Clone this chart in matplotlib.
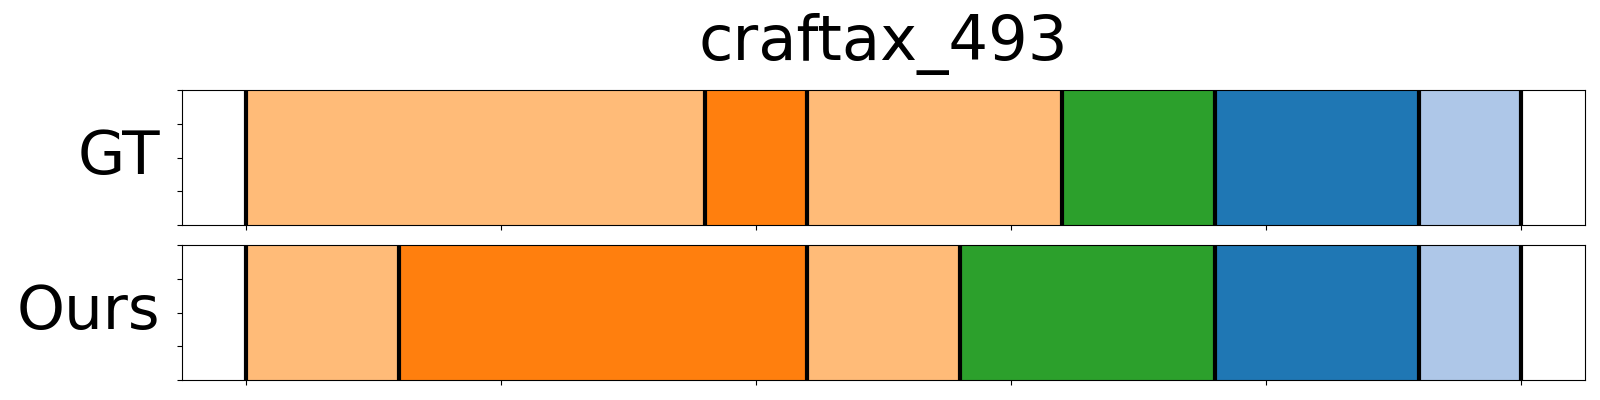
import matplotlib
matplotlib.use('Agg')
import matplotlib.pyplot as plt

# 分段结果 (帧边界 + 类别编号, tab20 色表)
title = 'craftax_493'
row_names = ['GT', 'Ours']
gt_bounds = [0, 180, 220, 320, 380, 460, 500]
gt_labels = [3, 2, 3, 4, 0, 1]
ours_bounds = [0, 60, 220, 280, 380, 460, 500]
ours_labels = [3, 2, 3, 4, 0, 1]
x_ticks = [0, 100, 200, 300, 400, 500]

cmap = plt.get_cmap('tab20')


def draw_segments(ax, bounds, labels):
    for i, lab in enumerate(labels):
        ax.axvspan(bounds[i], bounds[i + 1], color=cmap(lab), lw=0)
    for b in bounds:
        ax.axvline(b, color='black', lw=3)


fig, axes = plt.subplots(2, 1, figsize=(16, 4), dpi=100)
fig.subplots_adjust(left=0.1136, right=0.9908, top=0.7743, bottom=0.05, hspace=0.148)

for ax, name, bounds, labels in zip(axes, row_names,
                                    [gt_bounds, ours_bounds],
                                    [gt_labels, ours_labels]):
    draw_segments(ax, bounds, labels)
    ax.set_ylim(0, 1)
    ax.set_yticks([0, 0.25, 0.5, 0.75, 1.0])
    ax.set_yticklabels([])
    ax.set_xticks(x_ticks)
    ax.set_xticklabels([])
    ax.set_ylabel(name, rotation=0, fontsize=44, ha='right', va='center')
    ax.yaxis.set_label_coords(-0.0150, 0.5)

axes[0].set_title(title, fontsize=45, pad=22)

plt.savefig('out.png', dpi=100)
